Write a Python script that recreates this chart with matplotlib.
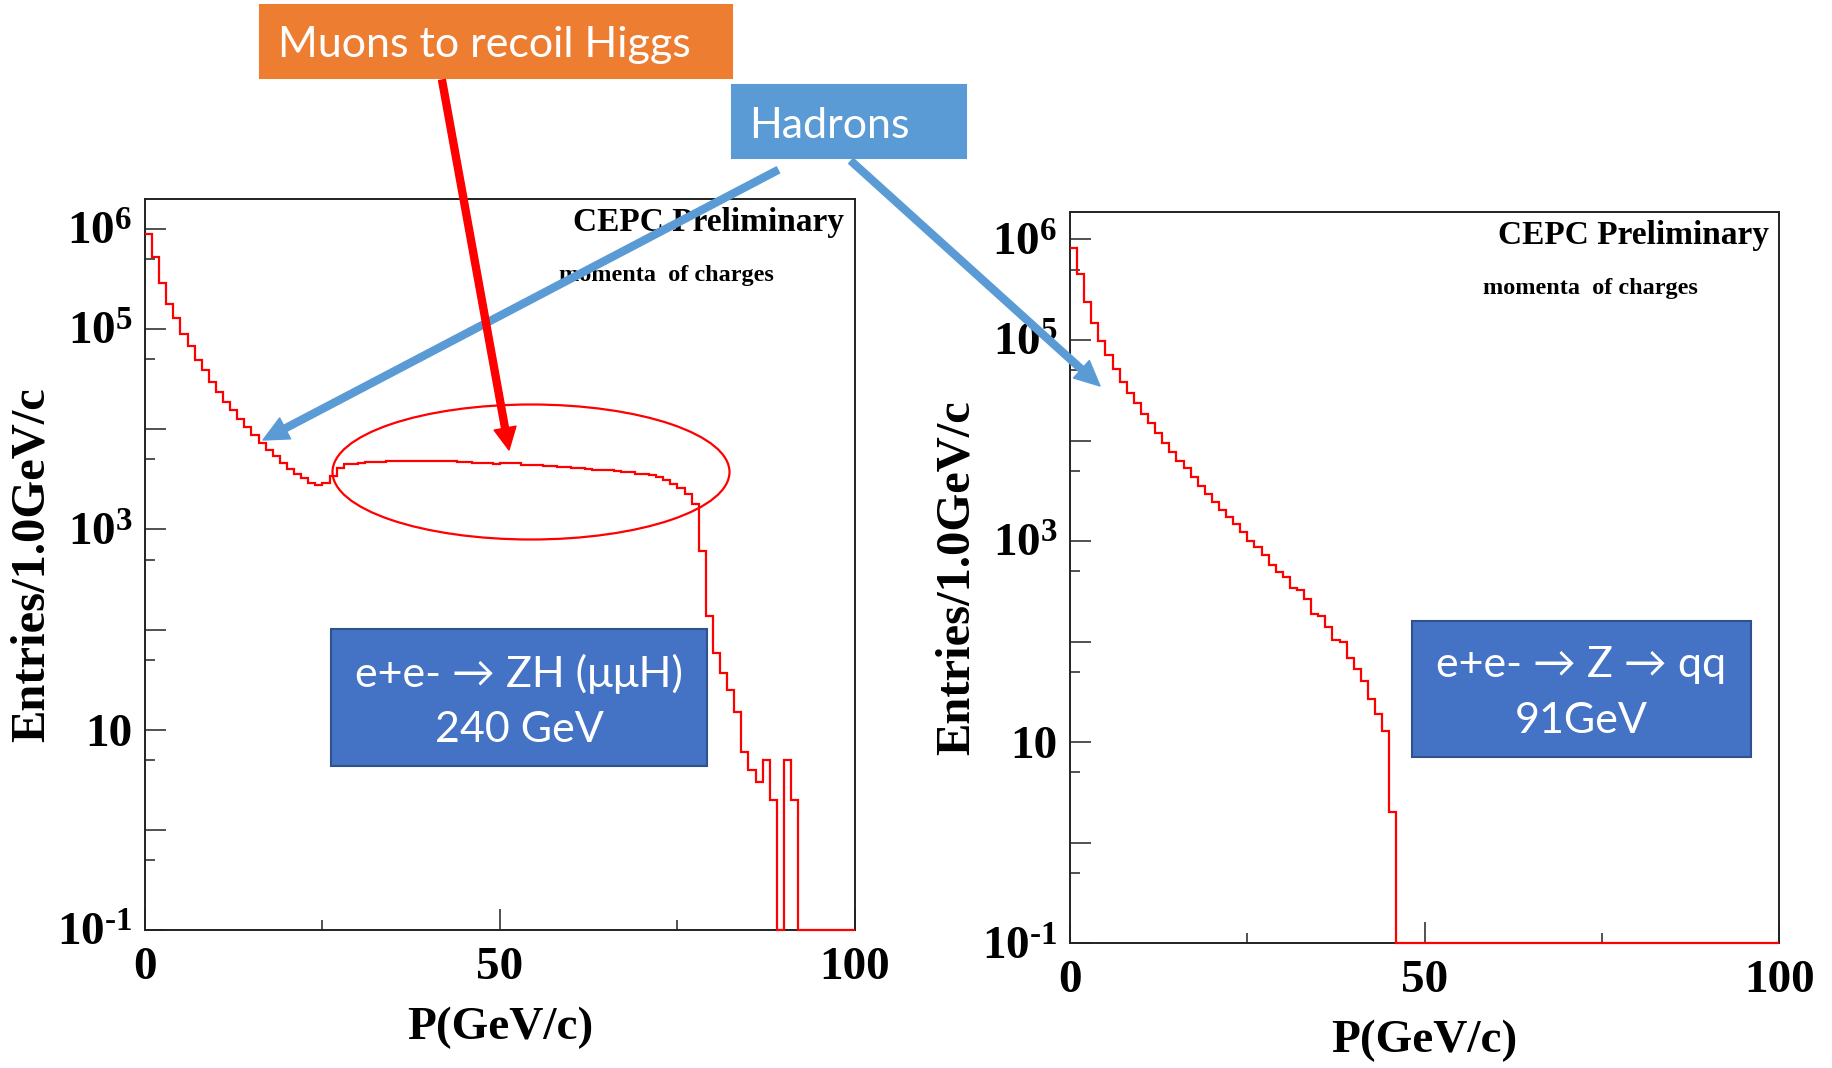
import numpy as np
import matplotlib
matplotlib.use("Agg")
import matplotlib.pyplot as plt
from matplotlib.patches import Rectangle, Ellipse, FancyArrowPatch
from matplotlib.ticker import FixedLocator, FixedFormatter, NullFormatter

plt.rcParams["font.family"] = "Liberation Serif"
plt.rcParams["font.weight"] = "bold"
plt.rcParams["axes.labelweight"] = "bold"
plt.rcParams["mathtext.fontset"] = "custom"
plt.rcParams["mathtext.rm"] = "Liberation Serif:bold"
plt.rcParams["mathtext.it"] = "Liberation Serif:bold"
plt.rcParams["mathtext.bf"] = "Liberation Serif:bold"

# 1 GeV/c bins from 0 to 100 GeV/c
bin_edges = np.linspace(0, 100, 101)

# e+e- -> ZH (mumuH), 240 GeV
counts_zh = [
    883000, 528000, 286000, 180000, 128000, 90400, 67600, 49700, 38900, 29700,
    23800, 18900, 15500, 12700, 10500, 8710, 7350, 6250, 5410, 4630,
    3980, 3550, 3240, 2880, 2790, 2920, 3390, 4140, 4470, 4540,
    4650, 4680, 4700, 4730, 4790, 4860, 4850, 4800, 4820, 4790,
    4810, 4780, 4830, 4790, 4760, 4750, 4590, 4560, 4570, 4540,
    4560, 4620, 4600, 4420, 4400, 4370, 4350, 4310, 4220, 4180,
    4140, 4120, 4000, 3960, 3950, 3930, 3850, 3750, 3730, 3600,
    3550, 3530, 3340, 3140, 2860, 2620, 2240, 1810, 607, 138,
    58, 37, 25, 15, 6, 4, 3, 5, 2, 0,
    5, 2, 0, 0, 0, 0, 0, 0, 0, 0,
]

# e+e- -> Z -> qq, 91 GeV
counts_zqq = [
    826000, 452000, 237000, 146000, 98400, 70300, 51100, 38500, 29900, 23400,
    18200, 14800, 11800, 9380, 7620, 6310, 5370, 4370, 3560, 2940,
    2470, 2040, 1720, 1480, 1240, 1010, 867, 721, 574, 497,
    443, 339, 327, 264, 187, 180, 141, 104, 100, 68,
    54, 41, 27, 19, 13, 2, 0, 0, 0, 0,
    0, 0, 0, 0, 0, 0, 0, 0, 0, 0,
    0, 0, 0, 0, 0, 0, 0, 0, 0, 0,
    0, 0, 0, 0, 0, 0, 0, 0, 0, 0,
    0, 0, 0, 0, 0, 0, 0, 0, 0, 0,
    0, 0, 0, 0, 0, 0, 0, 0, 0, 0,
]

y_major = [1e-1, 1, 10, 1e2, 1e3, 1e4, 1e5, 1e6]
y_labels = ["$10^{\u20101}$", "", "10", "", r"$10^{3}$", "", r"$10^{5}$", r"$10^{6}$"]
y_minor = [0.5, 5, 50, 500, 5e3, 5e4, 5e5]
x_major = [0, 50, 100]
x_labels = ["0", "50", "100"]
x_minor = [25, 75]

W, H = 1833, 1068
fig = plt.figure(figsize=(W / 100, H / 100), dpi=100)


def draw_hist(rect, counts, ytop):
    ax = fig.add_axes(rect)
    ymin = 0.1
    # empty bins sit on the lower frame, as in ROOT
    ax.stairs(np.maximum(counts, ymin), bin_edges, baseline=None,
              color="red", lw=1.6, zorder=3, clip_on=False)
    ax.set_yscale("log")
    ax.set_xlim(0, 100)
    ax.set_ylim(ymin, ytop)

    ax.yaxis.set_major_locator(FixedLocator(y_major))
    ax.yaxis.set_major_formatter(FixedFormatter(y_labels))
    ax.yaxis.set_minor_locator(FixedLocator(y_minor))
    ax.yaxis.set_minor_formatter(NullFormatter())
    ax.xaxis.set_major_locator(FixedLocator(x_major))
    ax.xaxis.set_major_formatter(FixedFormatter(x_labels))
    ax.xaxis.set_minor_locator(FixedLocator(x_minor))

    ax.tick_params(which="both", direction="in", color="#222222", width=1.1,
                   labelsize=34, top=False, right=False)
    ax.tick_params(which="major", length=15)
    ax.tick_params(which="minor", length=7.5)
    ax.tick_params(axis="x", pad=12)
    ax.tick_params(axis="y", pad=9)
    for sp in ax.spines.values():
        sp.set_color("#222222")
        sp.set_linewidth(1.4)

    ax.set_xlabel("P(GeV/c)", fontsize=34, va="center")
    ax.xaxis.set_label_coords(0.5, -0.134)
    ax.set_ylabel("Entries/1.0GeV/c", fontsize=35, va="center")
    ax.yaxis.set_label_coords(-0.16, 0.5)

    ax.text(0.985, 0.968, "CEPC Preliminary", transform=ax.transAxes,
            ha="right", va="center", fontsize=24)
    ax.text(0.734, 0.896, "momenta  of charges", transform=ax.transAxes,
            ha="center", va="center", fontsize=17.5)
    return ax


ax_zh = draw_hist([145 / W, 138 / H, 710 / W, 731 / H], counts_zh, 10 ** 6.30)
ax_zqq = draw_hist([1070 / W, 124.7 / H, 709.4 / W, 731 / H], counts_zqq, 10 ** 6.27)

# annotation layer in pixel units, origin at the top left
over = fig.add_axes([0, 0, 1, 1], zorder=10)
over.set_xlim(0, W)
over.set_ylim(H, 0)
over.axis("off")

box_font = ["Lato", "DejaVu Sans"]


def label_box(x, y, w, h, face, lines, edge=None, text_x=None, ha="center"):
    over.add_patch(Rectangle((x, y), w, h, facecolor=face,
                             edgecolor=edge if edge else face, lw=1.5))
    tx = text_x if text_x is not None else x + w / 2
    n = len(lines)
    for i, s in enumerate(lines):
        ty = y + h / 2 + 4 + (i - (n - 1) / 2) * 56
        over.text(tx, ty, s, ha=ha, va="center", color="white",
                  fontsize=31, family=box_font, fontweight="normal")


label_box(260, 5, 472, 73, "#ED7D31", ["Muons to recoil Higgs"], text_x=278, ha="left")
label_box(732, 85, 234, 73, "#5B9BD5", ["Hadrons"], text_x=749, ha="left")
label_box(331, 629, 376, 137, "#4472C4", ["e+e- \u2192 ZH (\u03bc\u03bcH)", "240 GeV"],
          edge="#2F528F")
label_box(1412, 621, 339, 136, "#4472C4", ["e+e- \u2192 Z \u2192 qq", "91GeV"],
          edge="#2F528F")

over.add_patch(Ellipse((531, 472), 397, 135, fill=False, edgecolor="red", lw=1.6))

blue_style = "simple,head_width=1.7,head_length=1.8,tail_width=0.5"
over.add_patch(FancyArrowPatch((778, 170), (263, 440), arrowstyle=blue_style,
                               mutation_scale=10, color="#5B9BD5", shrinkA=0, shrinkB=0))
over.add_patch(FancyArrowPatch((851, 161), (1100, 386), arrowstyle=blue_style,
                               mutation_scale=10, color="#5B9BD5", shrinkA=0, shrinkB=0))
over.add_patch(FancyArrowPatch((442, 80), (509, 450),
                               arrowstyle="simple,head_width=1.6,head_length=1.6,tail_width=0.5",
                               mutation_scale=10, color="red", shrinkA=0, shrinkB=0))

fig.savefig("out.png", dpi=100)
plt.close(fig)
